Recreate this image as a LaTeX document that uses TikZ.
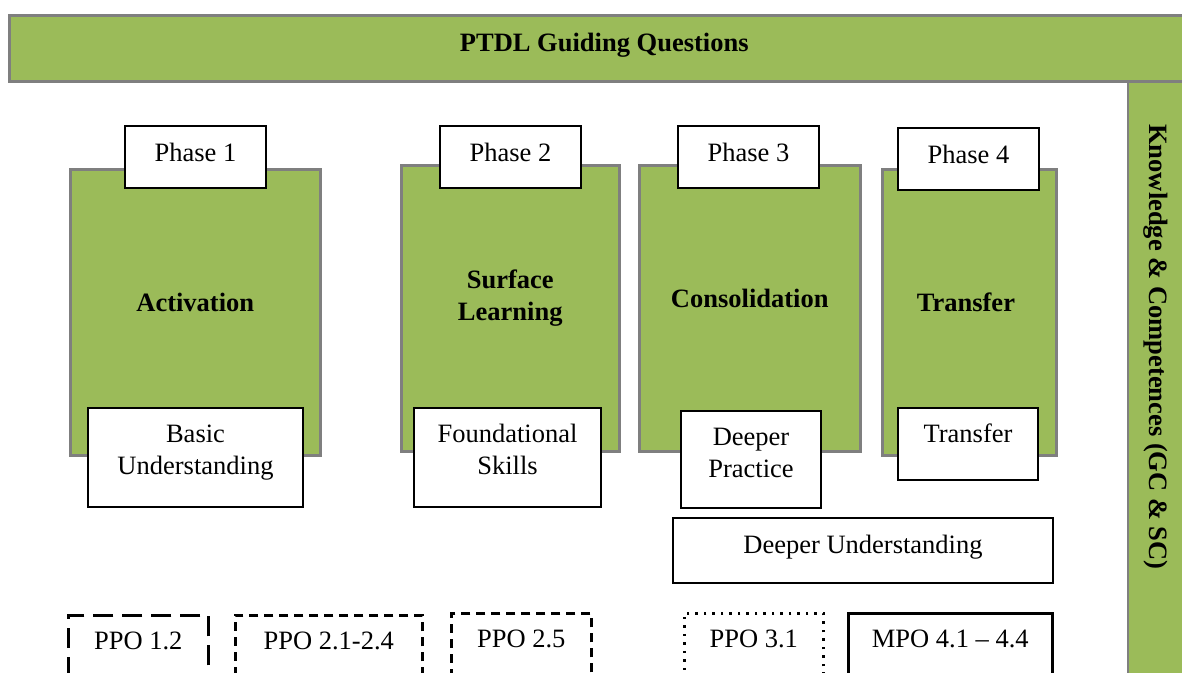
\documentclass[tikz,border=0pt]{standalone}
\usepackage{fontspec}
\setmainfont{Liberation Serif}
\usepackage{tikz}
\usetikzlibrary{positioning}
\newcommand{\ptdlsize}{\fontsize{26.5}{32}\selectfont}
\definecolor{ptdlgreen}{HTML}{9BBB59}
\definecolor{ptdlgray}{HTML}{7F7F7F}

\begin{document}
\begin{tikzpicture}[x=1pt, y=-1pt,
  every node/.style={font=\ptdlsize, inner sep=0pt},
  band/.style={draw=ptdlgray, fill=ptdlgreen, line width=2.5pt},
  phasebox/.style={band, anchor=north west, minimum height=286},
  phasetitle/.style={align=center, font=\ptdlsize\bfseries},
  tagbox/.style={draw=black, fill=white, line width=2pt, anchor=north west,
    minimum width=141, text height=35pt, text depth=27pt},
  notebox/.style={draw=black, fill=white, line width=2pt, anchor=north west,
    align=center},
  outcome/.style={draw=black, line width=2.5pt, anchor=north west,
    text height=34pt, text depth=50pt}]

  \useasboundingbox (0,0) rectangle (1182,672);
  \clip (0,0) rectangle (1182,672);

  % side band and heading band
  \draw[band] (1128,80) rectangle (1210,700);
  \node[rotate=-90, font=\ptdlsize\bfseries] (kc) at (1156,347)
    {Knowledge \& Competences (GC \& SC)};
  \node[band, anchor=north west, minimum width=1190, text height=36pt,
    text depth=30pt, font=\ptdlsize\bfseries] (guide) at (8,14)
    {PTDL Guiding Questions};

  % the four phases
  \foreach \i/\x/\y/\w/\title in {
    1/69/168/250/Activation,
    2/400/164/218/{Surface\\Learning},
    3/638/164/221/Consolidation,
    4/881/168/174/Transfer
  } {
    \node[phasebox, minimum width=\w] (phase\i) at (\x,\y) {};
    \node[phasetitle] (title\i) at ([yshift=10pt]phase\i.center) {\title};
  }

  \foreach \i/\x/\y in {1/124/125, 2/439/125, 3/677/125, 4/897/127}
    \node[tagbox] (tag\i) at (\x,\y) {Phase \i};

  % what each phase builds
  \node[notebox, minimum width=215, text height=66pt, text depth=33pt]
    (note1) at (87,407) {Basic\\Understanding};
  \node[notebox, minimum width=187, text height=66pt, text depth=33pt]
    (note2) at (413,407) {Foundational\\Skills};
  \node[notebox, minimum width=140, text height=66pt, text depth=31pt]
    (note3) at (680,410) {Deeper\\Practice};
  \node[notebox, minimum width=140, text height=34pt, text depth=38pt]
    (note4) at (897,407) {Transfer};
  \node[notebox, minimum width=380, text height=35pt, text depth=30pt]
    (deeper) at (672,517) {Deeper Understanding};

  % outcomes
  \node[outcome, minimum width=140, dash pattern=on 20pt off 9pt]
    (ppo12) at (67,614) {PPO 1.2};
  \node[outcome, minimum width=187, dash pattern=on 9pt off 6pt]
    (ppo21) at (234,614) {PPO 2.1-2.4};
  \node[outcome, minimum width=140, dash pattern=on 9pt off 6pt]
    (ppo25) at (450,612) {PPO 2.5};
  \node[outcome, minimum width=139, dash pattern=on 2.5pt off 6pt]
    (ppo31) at (683,612) {PPO 3.1};
  \node[outcome, minimum width=204] (mpo4) at (847,612) {MPO 4.1 -- 4.4};

\end{tikzpicture}
\end{document}
